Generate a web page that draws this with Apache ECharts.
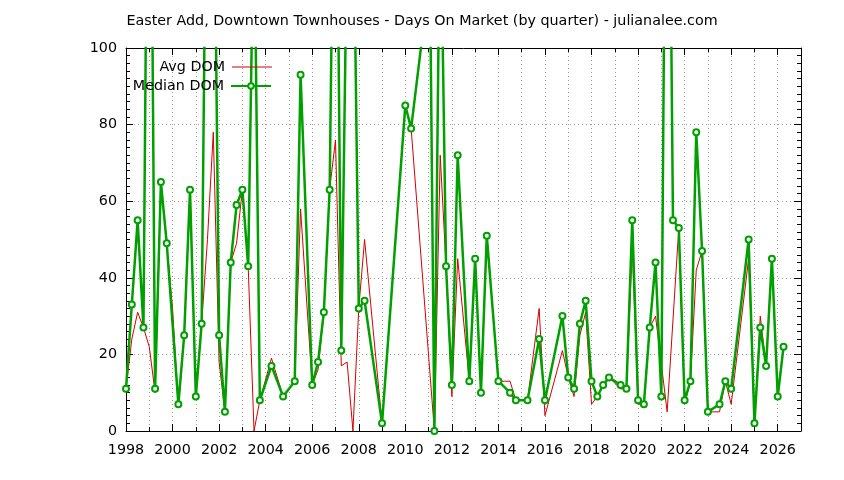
<!DOCTYPE html>
<html>
<head>
<meta charset="utf-8">
<script src="https://cdn.jsdelivr.net/npm/echarts@6/dist/echarts.min.js"></script>
<style>html,body{margin:0;padding:0;background:#fff}#c{width:844px;height:480px}</style>
</head>
<body>
<div id="c"></div>
<script>
// Quarter positions (decimal years) and values
var medianT = [1998.0,1998.25,1998.5,1998.75,1999.0,1999.25,1999.5,1999.75,2000.25,2000.5,2000.75,2001.0,2001.25,2001.5,2001.75,2002.0,2002.25,2002.5,2002.75,2003.0,2003.25,2003.5,2003.75,2004.25,2004.75,2005.25,2005.5,2006.0,2006.25,2006.5,2006.75,2007.0,2007.25,2007.5,2007.75,2008.0,2008.25,2009.0,2010.0,2010.25,2010.75,2011.0,2011.25,2011.5,2011.75,2012.0,2012.25,2012.75,2013.0,2013.25,2013.5,2014.0,2014.5,2014.75,2015.25,2015.75,2016.0,2016.75,2017.0,2017.25,2017.5,2017.75,2018.0,2018.25,2018.5,2018.75,2019.25,2019.5,2019.75,2020.0,2020.25,2020.5,2020.75,2021.0,2021.25,2021.5,2021.75,2022.0,2022.25,2022.5,2022.75,2023.0,2023.5,2023.75,2024.0,2024.75,2025.0,2025.25,2025.5,2025.75,2026.0,2026.25];
var medianV = [11,33,55,27,215,11,65,49,7,25,63,9,28,183,170,25,5,44,59,63,43,140,8,17,9,13,93,12,18,31,63,190,21,132,150,32,34,2,85,79,104,157,0,145,43,12,72,13,45,10,51,13,10,8,8,24,8,30,14,11,28,34,13,9,12,14,12,11,55,8,7,27,44,9,220,55,53,8,13,78,47,5,7,13,11,50,2,27,17,45,9,22];

var avgT = [1998.0,1998.25,1998.5,1998.75,1999.0,1999.25,1999.5,1999.75,2000.0,2000.25,2000.5,2000.75,2001.0,2001.25,2001.5,2001.75,2002.0,2002.25,2002.5,2002.75,2003.0,2003.25,2003.5,2003.75,2004.25,2004.75,2005.25,2005.5,2006.0,2006.25,2006.5,2006.75,2007.0,2007.25,2007.5,2007.75,2008.0,2008.25,2009.0,2010.0,2010.25,2011.25,2011.5,2011.75,2012.0,2012.25,2012.75,2013.0,2013.25,2013.5,2014.0,2014.25,2014.5,2014.75,2015.25,2015.75,2016.0,2016.75,2017.0,2017.25,2017.5,2017.75,2018.0,2018.25,2018.5,2018.75,2019.25,2019.5,2019.75,2020.0,2020.25,2020.5,2020.75,2021.25,2021.75,2022.0,2022.25,2022.5,2022.75,2023.0,2023.5,2023.75,2024.0,2024.75,2025.0,2025.25,2025.5,2025.75,2026.0,2026.25];
var avgV = [11,24,31,27,22,10,65,49,32,6,25,63,9,28,50,78,18,5,44,49,63,43,0,8,19,9,13,58,12,16,31,63,76,17,18,0,32,50,2,85,79,0,72,43,9,45,13,45,10,51,13,13,13,8,8,32,4,21,14,9,25,31,7,9,12,14,11,11,48,7,7,27,30,5,53,7,13,42,47,5,5,13,7,45,2,30,17,45,9,22];

var yTicks = [0,20,40,60,80,100];
var xLabelYears = [1998,2000,2002,2004,2006,2008,2010,2012,2014,2016,2018,2020,2022,2024,2026];

function pairs(t, v) { return t.map(function (x, i) { return [x, v[i]]; }); }

var FONT = 'DejaVu Sans';
var FS = 14.3;
var RED = '#d40000', GREEN = '#00a000';
var gridLine = { show: true, lineStyle: { color: '#a0a0a0', width: 1, type: [1, 3] } };

function xAx(pos, interval, labels, tickLen, split, line) {
  return {
    type: 'value', position: pos, min: 1998, max: 2027, interval: interval,
    axisLine: { show: line, onZero: false, lineStyle: { color: '#000', width: 1 } },
    axisTick: { show: true, inside: true, length: tickLen, lineStyle: { color: '#000' } },
    axisLabel: labels ? {
      show: true, color: '#000', fontFamily: FONT, fontSize: FS, margin: 12,
      showMaxLabel: false,
      formatter: function (v) { return xLabelYears.indexOf(v) >= 0 ? String(v) : ''; }
    } : { show: false },
    splitLine: split ? gridLine : { show: false }
  };
}
function yAx(pos, labels) {
  return {
    type: 'value', position: pos, min: 0, max: 100, interval: 20,
    axisLine: { show: true, onZero: false, lineStyle: { color: '#000', width: 1 } },
    axisTick: { show: true, inside: true, length: 7, lineStyle: { color: '#000' } },
    minorTick: { show: true, splitNumber: 10, length: 4, lineStyle: { color: '#000' } },
    axisLabel: labels ? {
      show: true, color: '#000', fontFamily: FONT, fontSize: FS, margin: 9,
      formatter: function (v) { return yTicks.indexOf(v) >= 0 ? String(v) : ''; }
    } : { show: false },
    splitLine: labels ? gridLine : { show: false }
  };
}

var chart = echarts.init(document.getElementById('c'), null, { renderer: 'canvas' });
chart.setOption({
  animation: false,
  backgroundColor: '#fff',
  title: {
    text: 'Easter Add, Downtown Townhouses - Days On Market (by quarter) - julianalee.com',
    left: 'center', top: 9,
    textStyle: { fontFamily: FONT, fontSize: FS, fontWeight: 'normal', color: '#000' }
  },
  legend: [
    { data: [{ name: 'Avg DOM', icon: 'rect', itemStyle: { color: RED } }],
      orient: 'vertical', right: 572, top: 60, align: 'right',
      itemWidth: 40, itemHeight: 1, itemGap: 5, padding: 0,
      textStyle: { fontFamily: FONT, fontSize: FS, color: '#000', padding: [0, 2, 0, 0] } },
    { data: ['Median DOM'], orient: 'vertical', right: 572, top: 79, align: 'right',
      itemWidth: 40, itemHeight: 7, itemGap: 5, padding: 0,
      textStyle: { fontFamily: FONT, fontSize: FS, color: '#000', padding: [0, 2, 0, 0] } }
  ],
  grid: { left: 126, right: 43, top: 48, bottom: 49, containLabel: false },
  xAxis: [
    xAx('bottom', 2, true, 7, true, true),
    xAx('bottom', 1, false, 4, true, false),
    xAx('top', 2, false, 7, false, true),
    xAx('top', 1, false, 4, false, false)
  ],
  yAxis: [yAx('left', true), yAx('right', false)],
  series: [
    {
      name: 'Avg DOM', type: 'line', xAxisIndex: 0, yAxisIndex: 0,
      data: pairs(avgT, avgV), symbol: 'none', clip: true,
      lineStyle: { color: RED, width: 1 }, itemStyle: { color: RED }, z: 2
    },
    {
      name: 'Median DOM', type: 'line', xAxisIndex: 0, yAxisIndex: 0,
      data: pairs(medianT, medianV), symbol: 'emptyCircle', symbolSize: 6, clip: true,
      lineStyle: { color: GREEN, width: 2.5 },
      itemStyle: { color: GREEN, borderColor: GREEN, borderWidth: 1.5 }, z: 3
    }
  ]
});
</script>
</body>
</html>
